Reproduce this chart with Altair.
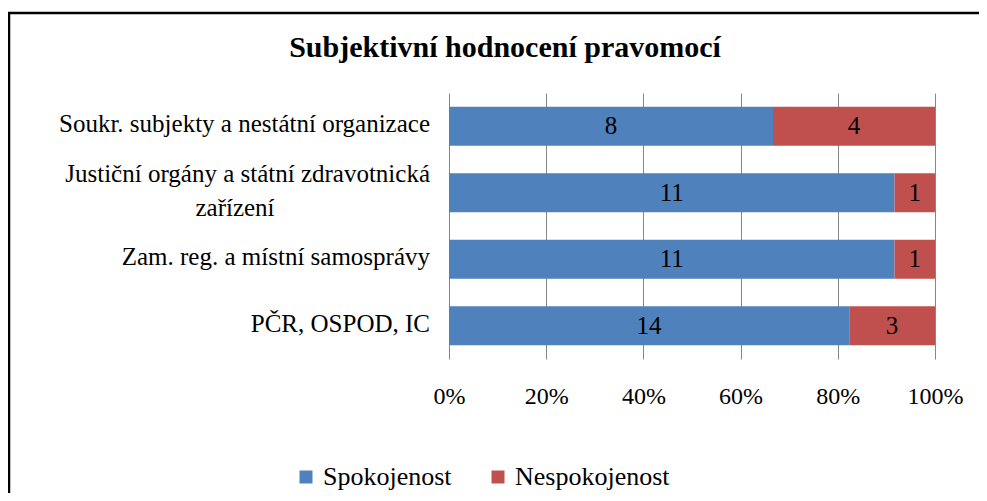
import altair as alt
import pandas as pd

# ---- data ----
categories = [
    "Soukr. subjekty a nestátní organizace",
    "Justiční orgány a státní zdravotnická zařízení",
    "Zam. reg. a místní samosprávy",
    "PČR, OSPOD, IC",
]
label_line1 = [
    "Soukr. subjekty a nestátní organizace",
    "Justiční orgány a státní zdravotnická",
    "Zam. reg. a místní samosprávy",
    "PČR, OSPOD, IC",
]
label_line2 = ["", "zařízení", "", ""]
spokojenost = [8, 11, 11, 14]
nespokojenost = [4, 1, 1, 3]
series = ["Spokojenost", "Nespokojenost"]
colors = ["#4F81BD", "#C0504D"]
x_ticks = [0, 0.2, 0.4, 0.6, 0.8, 1.0]
title_text = "Subjektivní hodnocení pravomocí"

FONT = "'Liberation Serif', 'Times New Roman', serif"

rows = []
for c, s, n in zip(categories, spokojenost, nespokojenost):
    rows.append({"category": c, "series": series[0], "value": s, "order": 0})
    rows.append({"category": c, "series": series[1], "value": n, "order": 1})
df = pd.DataFrame(rows)

labels_df = pd.DataFrame({"category": categories, "line1": label_line1, "line2": label_line2})

y_enc = alt.Y(
    "category:N",
    sort=categories,
    scale=alt.Scale(domain=categories, paddingInner=0.41, paddingOuter=0.205),
    axis=None,
)

base = alt.Chart(df).transform_stack(
    stack="value",
    groupby=["category"],
    as_=["x0", "x1"],
    offset="normalize",
    sort=[alt.SortField("order", order="ascending")],
).transform_calculate(mid="(datum.x0 + datum.x1) / 2")

bars = base.mark_bar().encode(
    x=alt.X(
        "x0:Q",
        scale=alt.Scale(domain=[0, 1], nice=False),
        axis=alt.Axis(
            values=x_ticks,
            format="%",
            grid=True,
            gridColor="#868686",
            gridWidth=1,
            domain=False,
            ticks=False,
            labelFont=FONT,
            labelFontSize=24,
            labelColor="black",
            labelPadding=25,
            labelBaseline="top",
            labelFlush=False,
            labelOverlap=False,
            title=None,
        ),
    ),
    x2="x1:Q",
    y=y_enc,
    color=alt.Color(
        "series:N",
        scale=alt.Scale(domain=series, range=colors),
        legend=alt.Legend(
            orient="none",
            legendX=-156,
            legendY=371,
            direction="horizontal",
            title=None,
            symbolType="square",
            symbolSize=169,
            symbolStrokeWidth=0,
            symbolOpacity=1,
            labelFont=FONT,
            labelFontSize=26,
            labelColor="black",
            labelOffset=4,
            columnPadding=33,
        ),
    ),
)

bar_text = base.mark_text(font=FONT, fontSize=25, color="black", baseline="middle").encode(
    x="mid:Q",
    y=y_enc,
    text="value:Q",
)

single_labels = alt.Chart(labels_df).transform_filter("datum.line2 == ''").mark_text(
    font=FONT, fontSize=25, color="black", align="right", baseline="middle", dy=-2
).encode(x=alt.value(-19), y=y_enc, text="line1:N")

wrap_line1 = alt.Chart(labels_df).transform_filter("datum.line2 != ''").mark_text(
    font=FONT, fontSize=25, color="black", align="right", baseline="middle", dy=-19
).encode(x=alt.value(-19), y=y_enc, text="line1:N")

wrap_line2 = alt.Chart(labels_df).transform_filter("datum.line2 != ''").mark_text(
    font=FONT, fontSize=25, color="black", align="center", baseline="middle", dy=15
).encode(x=alt.value(-214), y=y_enc, text="line2:N")

title = alt.Chart(pd.DataFrame({"t": [title_text]})).mark_text(
    font=FONT, fontSize=30, fontWeight="bold", color="black", align="center", baseline="alphabetic"
).encode(x=alt.value(56), y=alt.value(-36), text="t:N")

one = pd.DataFrame({"a": [0]})
border_left = alt.Chart(one).mark_rule(color="black", strokeWidth=2.5).encode(
    x=alt.value(-440), y=alt.value(-81), y2=alt.value(420)
)
border_top = alt.Chart(one).mark_rule(color="black", strokeWidth=2.5).encode(
    x=alt.value(-441), x2=alt.value(560), y=alt.value(-80)
)

chart = alt.layer(
    bars, bar_text, single_labels, wrap_line1, wrap_line2, title, border_left, border_top
).properties(
    width=486,
    height=266,
    autosize=alt.AutoSizeParams(type="none"),
    padding={"left": 441, "top": 85, "right": 44, "bottom": 134},
    background="white",
).configure_view(stroke=None)

chart.save("out.html", embed_options={"renderer": "svg", "actions": False})
